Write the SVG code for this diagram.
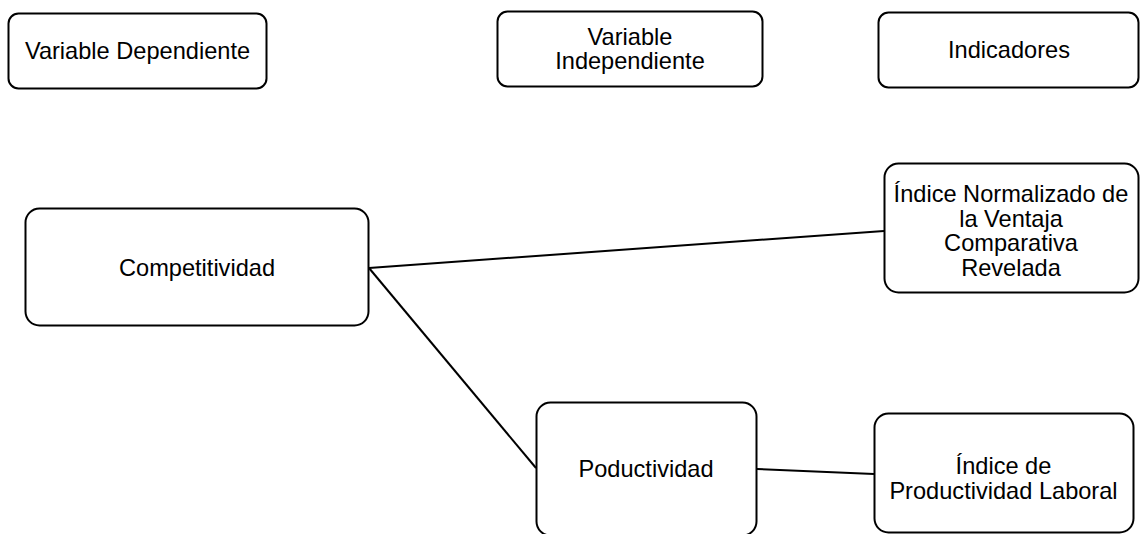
<svg xmlns="http://www.w3.org/2000/svg" width="1141" height="534" viewBox="0 0 1141 534">
<style>
.box{fill:#fff;stroke:#000;stroke-width:2}
.t{font-family:"Liberation Sans",Arial,sans-serif;font-size:23.6px;fill:#000;text-anchor:middle}
.c{stroke:#000;stroke-width:2;fill:none}
</style>
<rect width="1141" height="534" fill="#fff"/>
<g id="connectors">
<line class="c" x1="369" y1="268" x2="884" y2="231"/>
<line class="c" x1="369" y1="268" x2="536" y2="468"/>
<line class="c" x1="757" y1="469" x2="874" y2="474"/>
</g>
<g id="n-vdep">
<rect class="box" x="8.5" y="13.5" width="258" height="75" rx="10"/>
<text class="t" x="137.5" y="58.5">Variable Dependiente</text>
</g>
<g id="n-vind">
<rect class="box" x="497.5" y="11.5" width="265" height="75" rx="10"/>
<text class="t" x="630" y="44.5">Variable</text>
<text class="t" x="630" y="68.5">Independiente</text>
</g>
<g id="n-ind">
<rect class="box" x="878.5" y="12.5" width="260" height="75" rx="10"/>
<text class="t" x="1009" y="57.5">Indicadores</text>
</g>
<g id="n-comp">
<rect class="box" x="25.5" y="208.5" width="343" height="117" rx="14"/>
<text class="t" x="197" y="275.5">Competitividad</text>
</g>
<g id="n-invcr">
<rect class="box" x="884.5" y="163.5" width="254" height="129" rx="14"/>
<text class="t" x="1011" y="202">Índice Normalizado de</text>
<text class="t" x="1011" y="226.5">la Ventaja</text>
<text class="t" x="1011" y="251">Comparativa</text>
<text class="t" x="1011" y="275.5">Revelada</text>
</g>
<g id="n-prod">
<rect class="box" x="536.5" y="402.5" width="220" height="133" rx="14"/>
<text class="t" x="646" y="477">Poductividad</text>
</g>
<g id="n-ipl">
<rect class="box" x="874.5" y="413.5" width="259" height="119" rx="14"/>
<text class="t" x="1003.5" y="474">Índice de</text>
<text class="t" x="1003.5" y="499">Productividad Laboral</text>
</g>
</svg>
